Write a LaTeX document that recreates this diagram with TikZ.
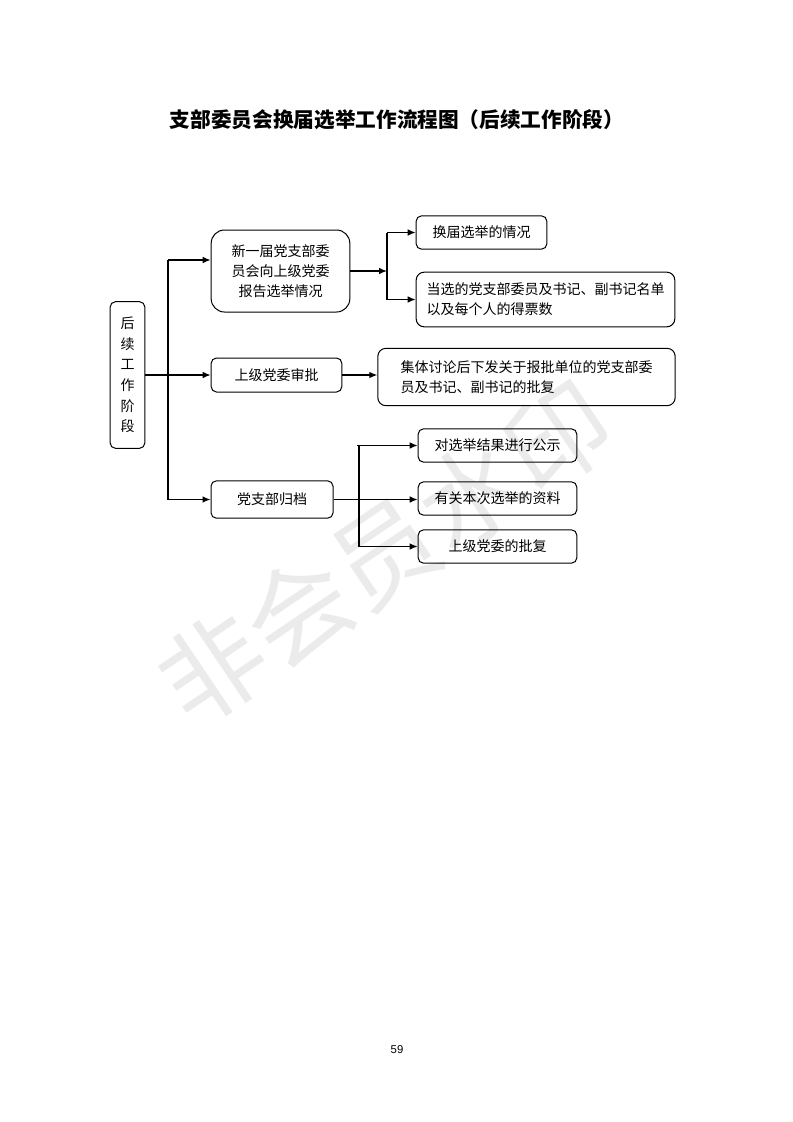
\documentclass[tikz,border=0pt]{standalone}
\usepackage{fontspec}
\setmainfont{Noto Sans CJK SC}
\newfontfamily\pagefont{Liberation Sans}
\usetikzlibrary{arrows.meta,positioning}

\begin{document}
\begin{tikzpicture}[
                x=0.75pt, y=-0.75pt,
                block/.style={draw, rounded corners=4pt, line width=0.75pt, align=center, inner sep=2pt, font=\fontsize{10.5}{15}\selectfont},
                arrow/.style={-{Latex[length=6pt,width=5pt]}, line width=1pt},
                line/.style={line width=1pt}
            ]

            \useasboundingbox (0,0) rectangle (793,1122);

            % watermark
            \node[rotate=34, text=black!8, font=\fontsize{78}{78}\selectfont] (mark) at (385,553) {非会员水印};

            \node[font=\bfseries\fontsize{15.5}{18}\selectfont] (title) at (397,120) {支部委员会换届选举工作流程图（后续工作阶段）};

            \node[block, minimum width=26pt, minimum height=110pt, font=\fontsize{10.5}{15.5}\selectfont] (stage) at (127.5,375) {后\\续\\工\\作\\阶\\段};

            \node[block, rounded corners=10pt, minimum width=104pt, minimum height=61.5pt] (report) at (280.5,271) {新一届党支部委\\员会向上级党委\\报告选举情况};

            \node[block, minimum width=98pt, minimum height=25pt] (change) at (481.5,232.5) {换届选举的情况};

            \node[block, rounded corners=6pt, minimum width=194pt, minimum height=41pt, align=left] (elected) at (545.5,299.5) {当选的党支部委员及书记、副书记名单\\以及每个人的得票数};

            \node[block, minimum width=98pt, minimum height=25.5pt] (approve) at (276.5,375) {上级党委审批};

            \node[block, rounded corners=6pt, minimum width=223pt, minimum height=43pt, align=left] (reply) at (526.5,377) {集体讨论后下发关于报批单位的党支部委\\员及书记、副书记的批复};

            \node[block, minimum width=91.5pt, minimum height=28pt] (archive) at (272,499.5) {党支部归档};

            \node[block, minimum width=119pt, minimum height=25pt] (publicize) at (497.5,445.5) {对选举结果进行公示};

            \node[block, minimum width=119pt, minimum height=25pt] (material) at (497.5,498.5) {有关本次选举的资料};

            \node[block, minimum width=119pt, minimum height=25pt] (superior) at (497.5,546.5) {上级党委的批复};

            \node[font=\pagefont\fontsize{8.5}{10}\selectfont] (page) at (397,1050) {59};

            % trunk
            \coordinate (trunk) at (168,260);
            \draw[line] (trunk) -- (trunk |- archive);
            \draw[arrow] (trunk) -- (trunk -| report.west);
            \draw[arrow] (stage.east) -- (approve.west);
            \draw[arrow] (trunk |- archive) -- (archive.west);

            % first branch
            \coordinate (split1) at (387,271);
            \draw[arrow] (report.east) -- (split1);
            \draw[line] (split1 |- change) -- (split1 |- elected);
            \draw[arrow] (split1 |- change) -- (change.west);
            \draw[arrow] (split1 |- elected) -- (elected.west);

            % second branch
            \draw[arrow] (approve.east) -- (approve.east -| reply.west);

            % third branch
            \coordinate (split3) at (359,499.5);
            \draw[line] (split3 |- publicize) -- (split3 |- superior);
            \draw[arrow] ([xshift=-1.5pt]split3 |- publicize) -- (publicize.west);
            \draw[arrow] (archive.east) -- (archive.east -| material.west);
            \draw[arrow] (split3 |- superior) -- (superior.west);

        \end{tikzpicture}
\end{document}
